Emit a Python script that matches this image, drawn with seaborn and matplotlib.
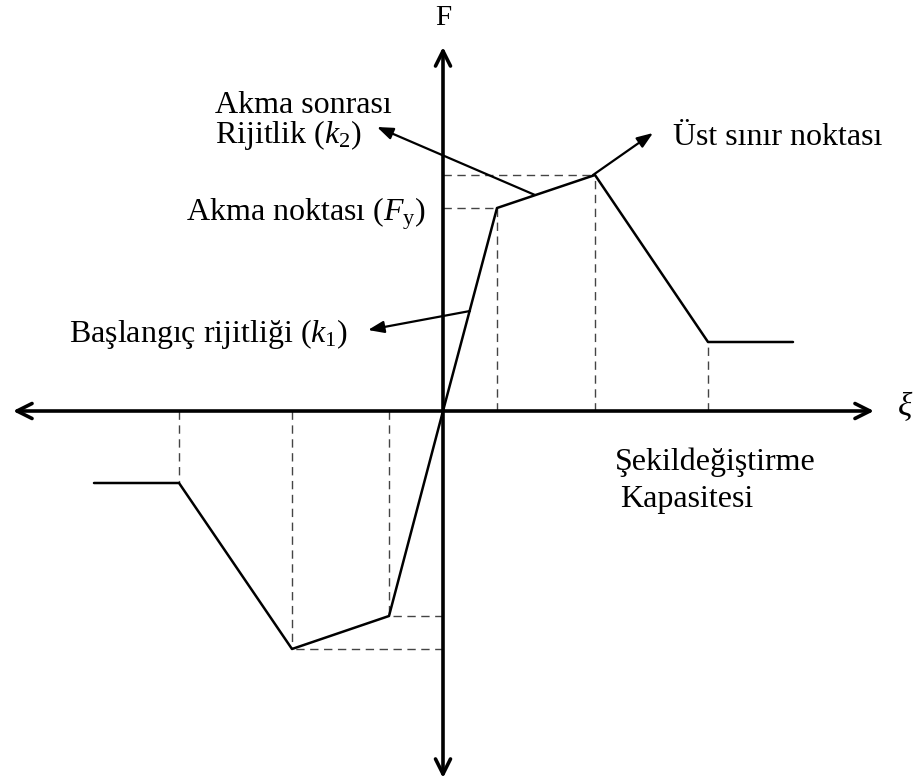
# Force - deformation (F - xi) backbone curve, symmetric push/pull
import numpy as np
import pandas as pd
import matplotlib
matplotlib.use("Agg")
import matplotlib.pyplot as plt
import seaborn as sns

# curve points (x = deformation, y = force), arbitrary units
pos_x = [0, 54, 152, 265, 350]
pos_y = [0, 203, 236, 69, 69]
neg_x = [0, -54, -151, -264, -349]
neg_y = [0, -205, -238, -72, -72]

# corner points that get dashed guide lines
guide_pts = [(54, 203), (152, 236), (-54, -205), (-151, -238)]
drop_x = [265, -264]
drop_y = [69, -72]

sns.set_theme(style="white")
plt.rcParams['font.family'] = ['Liberation Serif', 'DejaVu Serif']
plt.rcParams['text.color'] = 'black'
plt.rcParams['mathtext.fontset'] = 'custom'
plt.rcParams['mathtext.rm'] = 'Liberation Serif'
plt.rcParams['mathtext.it'] = 'Liberation Serif:italic'

fig = plt.figure(figsize=(9.16, 7.83), dpi=100)
ax = fig.add_axes([0, 0, 1, 1])
ax.set_xlim(-443, 473)
ax.set_ylim(-372, 411)
ax.axis('off')

# dashed guides
dash = dict(color='#444444', lw=1.0, ls=(0, (6, 4)))
for gx, gy in guide_pts:
    ax.plot([gx, gx], [0, gy], **dash)
    ax.plot([0, gx], [gy, gy], **dash)
for dx, dy in zip(drop_x, drop_y):
    ax.plot([dx, dx], [0, dy], **dash)

# curve
curve = pd.DataFrame({'x': neg_x[::-1] + pos_x[1:], 'y': neg_y[::-1] + pos_y[1:]})
sns.lineplot(data=curve, x='x', y='y', sort=False, color='black', lw=1.8, ax=ax)

# axes with open arrow heads
axis_style = dict(arrowstyle='<->,head_length=0.9,head_width=0.45', color='black', lw=2.6,
                  shrinkA=0, shrinkB=0)
ax.annotate('', xy=(431, 0), xytext=(-430, 0), arrowprops=axis_style)
ax.annotate('', xy=(0, 364), xytext=(0, -367), arrowprops=axis_style)

fs = 23
ax.text(0, 386, 'F', fontsize=fs - 2, ha='center', va='baseline')
ax.text(462, 5, r'$\xi$', fontsize=fs + 1, ha='center', va='center')

# annotation arrows
pointer = dict(arrowstyle='-|>,head_length=0.8,head_width=0.3', color='black', lw=1.6,
               shrinkA=0, shrinkB=0)
ax.annotate('', xy=(-66, 284), xytext=(92, 216), arrowprops=pointer)
ax.annotate('', xy=(210, 278), xytext=(150, 236), arrowprops=pointer)
ax.annotate('', xy=(-75, 81), xytext=(27, 100), arrowprops=pointer)

ax.text(-228, 298, 'Akma sonrası', fontsize=fs, ha='left', va='baseline')
ax.text(-228, 268, r'Rijitlik ($\mathit{k}_{2}$)', fontsize=fs, ha='left', va='baseline')
ax.text(-257, 191, r'Akma noktası ($\mathit{F}_{\mathrm{y}}$)', fontsize=fs, ha='left', va='baseline')
ax.text(-95, 69, r'Başlangıç rijitliği ($\mathit{k}_{1}$)', fontsize=fs, ha='right', va='baseline')
ax.text(230, 266, 'Üst sınır noktası', fontsize=fs, ha='left', va='baseline')
ax.text(172, -59, 'Şekildeğiştirme', fontsize=fs, ha='left', va='baseline')
ax.text(177, -96, 'Kapasitesi', fontsize=fs, ha='left', va='baseline')

fig.savefig('out.png', dpi=100)
